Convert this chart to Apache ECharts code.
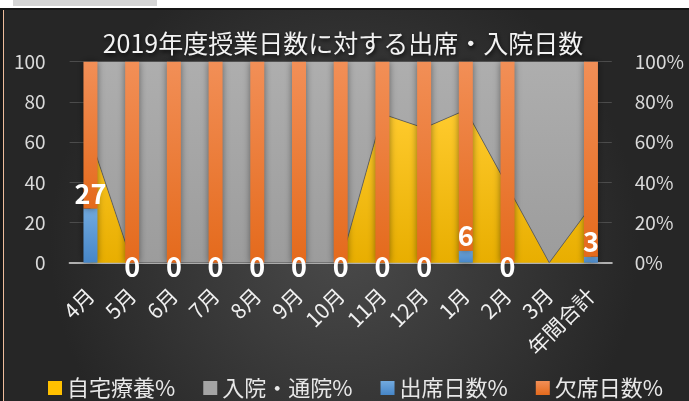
<!DOCTYPE html>
<html>
<head>
<meta charset="utf-8">
<script src="https://cdn.jsdelivr.net/npm/echarts@6/dist/echarts.min.js"></script>
<style>
html,body{margin:0;padding:0;background:#ffffff;}
#c{width:689px;height:401px;}
</style>
</head>
<body>
<div id="c"></div>
<script>
var categories = ['4月','5月','6月','7月','8月','9月','10月','11月','12月','1月','2月','3月','年間合計'];
var homeCare = [62, 0, 0, 0, 0, 0, 0, 74, 67, 76, 38, 0, 28];
var hospital = [38, 100, 100, 100, 100, 100, 100, 26, 33, 24, 62, 100, 72];
var attend = [27, 0, 0, 0, 0, 0, 0, 0, 0, 6, 0, null, 3];
var absent = [73, 100, 100, 100, 100, 100, 100, 100, 100, 94, 100, null, 97];
var leftTicks = [0, 20, 40, 60, 80, 100];
var rightTicks = ['0%', '20%', '40%', '60%', '80%', '100%'];

var FONT = '"Noto Sans CJK JP", "Noto Sans", sans-serif';
var chart = echarts.init(document.getElementById('c'), null, {renderer: 'canvas'});

var attendData = attend.map(function (v) {
  if (v === 0) {
    return {value: v, label: {position: 'inside', offset: [0, 4]}};
  }
  return v;
});

function vgrad(a, b) {
  return new echarts.graphic.LinearGradient(0, 0, 0, 1, [{offset: 0, color: a}, {offset: 1, color: b}]);
}

var option = {
  backgroundColor: 'transparent',
  animation: false,
  graphic: [
    {type: 'rect', z: -10, silent: true, shape: {x: 0, y: 8, width: 689, height: 393},
     style: {fill: new echarts.graphic.RadialGradient(0.5, 0.6, 0.75, [{offset: 0, color: '#4a4a4a'}, {offset: 1, color: '#262626'}])}},
    {type: 'rect', z: -9, silent: true, shape: {x: 13, y: 0, width: 144, height: 6}, style: {fill: '#d4d4d4'}},
    {type: 'rect', z: -9, silent: true, shape: {x: 0, y: 8, width: 689, height: 2}, style: {fill: '#161616'}},
    {type: 'rect', z: -9, silent: true, shape: {x: 0, y: 8, width: 3, height: 393}, style: {fill: '#161616'}},
    {type: 'rect', z: -9, silent: true, shape: {x: 3, y: 10, width: 1, height: 391}, style: {fill: '#eebc9c'}}
  ],
  title: {
    text: '2019年度授業日数に対する出席・入院日数',
    left: 338,
    textAlign: 'center',
    top: 26,
    textStyle: {color: '#f2f2f2', fontSize: 25, fontWeight: 'normal', fontFamily: FONT,
      textShadowColor: 'rgba(0,0,0,0.8)', textShadowBlur: 4, textShadowOffsetX: 1, textShadowOffsetY: 2}
  },
  legend: {
    left: 43,
    top: 372,
    itemWidth: 14,
    itemHeight: 14,
    itemGap: 28,
    icon: 'rect',
    textStyle: {color: '#e8e8e8', fontSize: 22, fontFamily: FONT},
    data: ['自宅療養%', '入院・通院%', '出席日数%', '欠席日数%']
  },
  grid: {left: 69.6, right: 77.2, top: 61.7, bottom: 138.3, containLabel: false},
  xAxis: {
    type: 'category',
    data: categories,
    boundaryGap: true,
    axisLine: {show: true, lineStyle: {color: '#b0b0b0', width: 2}},
    axisTick: {show: false},
    axisLabel: {rotate: 45, margin: 29, color: '#f0f0f0', fontSize: 21, fontFamily: FONT, interval: 0}
  },
  yAxis: [
    {
      type: 'value', min: 0, max: 100, interval: 20,
      axisLine: {show: false}, axisTick: {show: false},
      splitLine: {show: true, lineStyle: {color: '#4c4c4c', width: 1}},
      axisLabel: {margin: 24, color: '#d9d9d9', fontSize: 19, fontFamily: FONT,
        formatter: function (v) { return String(leftTicks[Math.round(v / 20)]); }}
    },
    {
      type: 'value', min: 0, max: 100, interval: 20,
      axisLine: {show: false}, axisTick: {show: false}, splitLine: {show: false},
      axisLabel: {margin: 23, color: '#d9d9d9', fontSize: 19, fontFamily: FONT,
        formatter: function (v) { return rightTicks[Math.round(v / 20)]; }}
    }
  ],
  series: [
    {
      name: '自宅療養%', type: 'line', yAxisIndex: 1, stack: 'area', data: homeCare,
      symbol: 'none', z: 1,
      lineStyle: {color: 'rgba(90,90,90,0.8)', width: 1},
      itemStyle: {color: '#FFC000'},
      areaStyle: {color: vgrad('#FFCB2E', '#E8AE00'), opacity: 1}
    },
    {
      name: '入院・通院%', type: 'line', yAxisIndex: 1, stack: 'area', data: hospital,
      symbol: 'none', z: 1,
      lineStyle: {width: 0},
      itemStyle: {color: '#A5A5A5'},
      areaStyle: {color: vgrad('#AEAEAE', '#9C9C9C'), opacity: 1}
    },
    {
      name: '出席日数%', type: 'bar', yAxisIndex: 0, stack: 'bar', data: attendData,
      barWidth: 14, z: 3,
      itemStyle: {color: vgrad('#72AADF', '#4686C8'), shadowColor: 'rgba(0,0,0,0.45)', shadowBlur: 7},
      label: {show: true, position: 'top', distance: 1, color: '#ffffff', fontSize: 27, fontWeight: 'bold', fontFamily: FONT}
    },
    {
      name: '欠席日数%', type: 'bar', yAxisIndex: 0, stack: 'bar', data: absent,
      barWidth: 14, z: 3,
      itemStyle: {color: vgrad('#F28F57', '#E46A1C'), shadowColor: 'rgba(0,0,0,0.45)', shadowBlur: 7}
    }
  ]
};
chart.setOption(option);
</script>
</body>
</html>
